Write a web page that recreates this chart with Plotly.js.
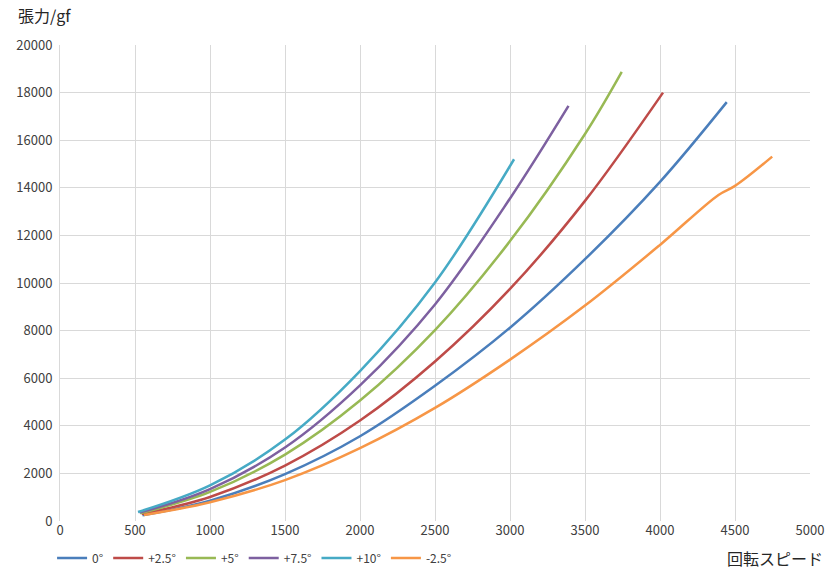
<!DOCTYPE html>
<html>
<head>
<meta charset="utf-8">
<script src="https://cdn.plot.ly/plotly-3.0.1.min.js"></script>
<style>
  body { margin: 0; background: #fff; }
  #chart { width: 840px; height: 573px; }
</style>
</head>
<body>
<div id="chart"></div>
<script>
// series names / colours
var names = ['0°', '+2.5°', '+5°', '+7.5°', '+10°', '-2.5°'];
var colors = ['#4a7ebb', '#be4b48', '#98b954', '#7d60a0', '#46aac5', '#f79646'];

// rpm / tension (gf)
var rpm0   = [550, 1000, 1500, 2000, 2500, 3000, 3500, 4000, 4445];
var gf0    = [240, 850, 1970, 3560, 5680, 8120, 11000, 14250, 17600];

var rpm25  = [545, 1000, 1500, 2000, 2500, 3000, 3500, 4020];
var gf25   = [290, 1010, 2330, 4220, 6700, 9750, 13450, 18000];

var rpm5   = [535, 1000, 1500, 2000, 2500, 3000, 3500, 3745];
var gf5    = [320, 1220, 2790, 5060, 8020, 11760, 16260, 18870];

var rpm75  = [530, 1000, 1500, 2000, 2500, 3000, 3390];
var gf75   = [350, 1340, 3090, 5700, 9100, 13550, 17440];

var rpm10  = [520, 1000, 1500, 2000, 2500, 3027];
var gf10   = [380, 1500, 3420, 6300, 10020, 15200];

var rpmM25 = [560, 1000, 1500, 2000, 2500, 3000, 3500, 4000, 4390, 4500, 4748];
var gfM25  = [250, 790, 1720, 3060, 4750, 6780, 9050, 11600, 13700, 14080, 15310];

var xs = [rpm0, rpm25, rpm5, rpm75, rpm10, rpmM25];
var ys = [gf0, gf25, gf5, gf75, gf10, gfM25];

var traces = [];
for (var i = 0; i < names.length; i++) {
    traces.push({
        x: xs[i],
        y: ys[i],
        name: names[i],
        type: 'scatter',
        mode: 'lines',
        line: { color: colors[i], width: 2.5, shape: 'spline', smoothing: 1 }
    });
}

var font = '"Noto Sans CJK JP", "Noto Sans", sans-serif';

var layout = {
    width: 840,
    height: 573,
    margin: { l: 60, r: 30, t: 45, b: 52 },
    paper_bgcolor: '#fff',
    plot_bgcolor: '#fff',
    font: { family: font, size: 13, color: '#404040' },
    showlegend: true,
    legend: {
        orientation: 'h',
        xref: 'container', yref: 'container',
        x: 0.062, xanchor: 'left',
        y: 0.026, yanchor: 'middle',
        font: { size: 12, color: '#404040' },
        itemwidth: 30,
        tracegroupgap: 0
    },
    xaxis: {
        range: [0, 5000],
        dtick: 500,
        tick0: 0,
        tickformat: 'd',
        showgrid: true,
        gridcolor: '#d9d9d9',
        zeroline: false,
        showline: false,
        ticks: '',
        tickfont: { size: 13, color: '#404040' },
        fixedrange: true
    },
    yaxis: {
        range: [0, 20000],
        dtick: 2000,
        tick0: 0,
        tickformat: 'd',
        showgrid: true,
        gridcolor: '#d9d9d9',
        zeroline: false,
        showline: true,
        linecolor: '#d9d9d9',
        ticks: '',
        ticklabelstandoff: 4,
        tickfont: { size: 13, color: '#404040' },
        fixedrange: true
    },
    annotations: [
        {
            text: '張力/gf',
            xref: 'paper', yref: 'paper',
            x: -0.059, y: 1.063,
            xanchor: 'left', yanchor: 'middle',
            showarrow: false,
            font: { family: font, size: 16, color: '#262626' }
        },
        {
            text: '回転スピード',
            xref: 'paper', yref: 'paper',
            x: 1.02, y: -0.078,
            xanchor: 'right', yanchor: 'middle',
            showarrow: false,
            font: { family: font, size: 16, color: '#262626' }
        }
    ]
};

Plotly.newPlot('chart', traces, layout, { displayModeBar: false, staticPlot: true });
</script>
</body>
</html>
